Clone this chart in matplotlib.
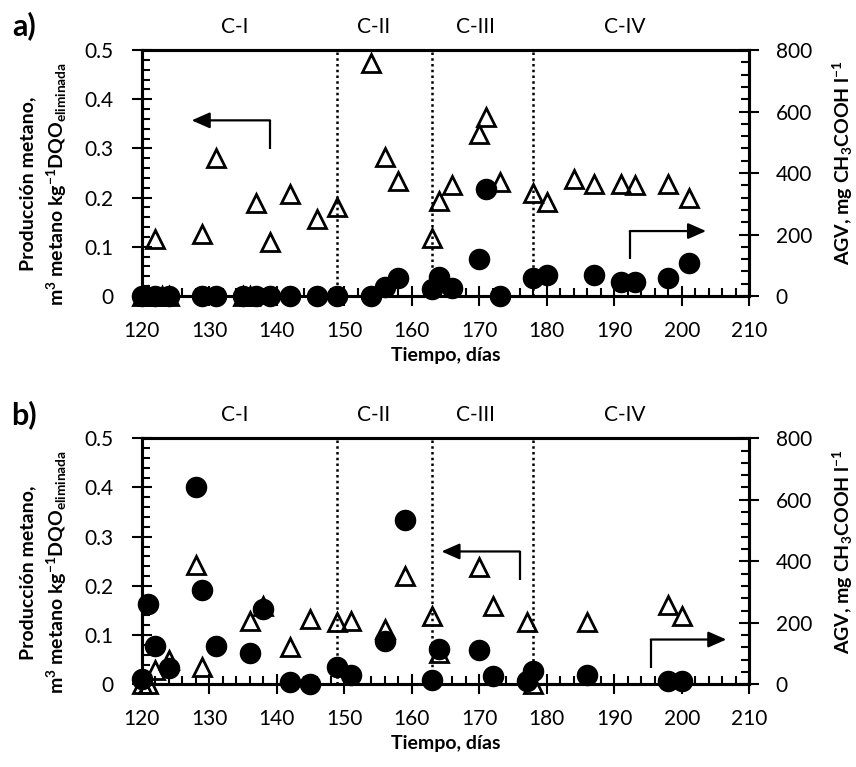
import matplotlib
matplotlib.use("Agg")
import matplotlib.pyplot as plt
from matplotlib.ticker import MultipleLocator, FuncFormatter

plt.rcParams['font.family'] = ['Lato', 'DejaVu Sans']
plt.rcParams['mathtext.fontset'] = 'custom'
plt.rcParams['mathtext.rm'] = 'Lato:bold'
plt.rcParams['mathtext.bf'] = 'Lato:bold'
plt.rcParams['mathtext.it'] = 'Lato:bold:italic'
plt.rcParams['mathtext.default'] = 'rm'

# ================ DATA ================
# a) methane production (left axis, triangles) and AGV (right axis, circles)
tri_a_days = [120, 121, 122, 123, 124, 129, 131, 135, 136, 137, 139, 142, 146, 149,
              154, 156, 158, 163, 164, 166, 170, 171, 173, 178, 180, 184, 187, 191,
              193, 198, 201]
tri_a_vals = [0, 0, 0.115, 0, 0, 0.127, 0.28, 0, 0, 0.19, 0.109, 0.208, 0.156, 0.18,
              0.473, 0.283, 0.233, 0.117, 0.193, 0.225, 0.329, 0.364, 0.232, 0.209,
              0.191, 0.237, 0.228, 0.228, 0.225, 0.228, 0.199]
circ_a_days = [120, 122, 124, 129, 131, 135, 137, 139, 142, 146, 149, 154, 156, 158,
               163, 164, 166, 170, 171, 173, 178, 180, 187, 191, 193, 198, 201]
circ_a_vals = [0, 0, 0, 0, 0, 0, 0, 0, 0, 0, 0, 0, 30, 60,
               22, 63, 25, 119, 347, 0, 60, 68, 68, 44, 44, 60, 106]

# b)
tri_b_days = [120, 121, 122, 124, 128, 129, 136, 138, 142, 145, 149, 151, 156, 159,
              163, 164, 170, 172, 177, 178, 186, 198, 200]
tri_b_vals = [0, 0, 0.029, 0.049, 0.243, 0.035, 0.129, 0.16, 0.076, 0.132, 0.127,
              0.129, 0.112, 0.221, 0.138, 0.063, 0.239, 0.16, 0.126, 0, 0.127, 0.161,
              0.139]
circ_b_days = [120, 121, 122, 124, 128, 129, 131, 136, 138, 142, 145, 149, 151, 156,
               159, 163, 164, 170, 172, 177, 178, 186, 198, 200]
circ_b_vals = [16, 261, 125, 52, 640, 307, 125, 103, 244, 9, 0, 57, 30, 142,
               534, 14, 114, 112, 28, 11, 44, 30, 11, 11]

phase_bounds = [149, 163, 178]
phase_names = ['C-I', 'C-II', 'C-III', 'C-IV']
phase_label_x = [133.8, 154.3, 169.5, 191.6]

# ================ DRAW ================
W, H = 856, 767
fig = plt.figure(figsize=(W / 100, H / 100), dpi=100)

TICK_FS = 15
LABEL_FS = 14


def panel(rect, tri_days, tri_vals, circ_days, circ_vals, left_arrow, right_arrow,
          letter, dy):
    ax = fig.add_axes(rect)
    ax2 = ax.twinx()

    ax.set_xlim(120, 210)
    ax.set_ylim(0, 0.5)
    ax2.set_ylim(0, 800)

    for x in phase_bounds:
        ax.axvline(x, color='k', ls=(0, (1, 1.3)), lw=1.8)

    ax.plot(tri_days, tri_vals, ls='none', marker='^', ms=13, mfc='none',
            mec='k', mew=2, clip_on=False)
    ax2.plot(circ_days, circ_vals, ls='none', marker='o', ms=14.5, color='k',
             clip_on=False)

    # arrows pointing to the matching axis
    for pts in (left_arrow, right_arrow):
        (x0, y0), (x1, y1), (x2, y2) = pts
        ax.plot([x0, x1], [y0, y1], color='k', lw=1.6, solid_capstyle='butt')
        ax.annotate('', xy=(x2, y2), xytext=(x1, y1),
                    arrowprops=dict(arrowstyle='-|>,head_length=0.5,head_width=0.22',
                                    color='k', lw=1.6, mutation_scale=22,
                                    shrinkA=0, shrinkB=0))

    ax.xaxis.set_major_locator(MultipleLocator(10))
    ax.xaxis.set_minor_locator(MultipleLocator(2))
    ax.yaxis.set_major_locator(MultipleLocator(0.1))
    ax.yaxis.set_minor_locator(MultipleLocator(0.02))
    ax2.yaxis.set_major_locator(MultipleLocator(200))
    ax2.yaxis.set_minor_locator(MultipleLocator(40))
    ax.yaxis.set_major_formatter(FuncFormatter(lambda v, p: '0' if abs(v) < 1e-9 else f'{v:.1f}'))

    ax.tick_params(axis='x', which='major', direction='inout', length=14, width=1.5,
                   labelsize=TICK_FS, pad=11)
    ax.tick_params(axis='x', which='minor', direction='in', length=6, width=1.5)
    ax.tick_params(axis='y', which='major', direction='inout', length=14, width=1.5,
                   labelsize=TICK_FS, pad=13)
    ax.tick_params(axis='y', which='minor', direction='in', length=6, width=1.5)
    ax2.tick_params(axis='y', which='major', direction='inout', length=14, width=1.5,
                    labelsize=TICK_FS, pad=12)
    ax2.tick_params(axis='y', which='minor', direction='in', length=6, width=1.5)

    for a in (ax, ax2):
        for s in a.spines.values():
            s.set_linewidth(2.2)

    ax.set_xlabel('Tiempo, días', fontsize=LABEL_FS, fontweight='bold', labelpad=4)

    tr = ax.get_xaxis_transform()
    for name, x in zip(phase_names, phase_label_x):
        ax.text(x, 1.093, name, transform=tr, ha='center', va='center', fontsize=TICK_FS)

    # axis titles
    fig.text(28 / W, 1 - (184 + dy) / H, 'Producción metano,', rotation=90,
             ha='center', va='center', fontsize=LABEL_FS, fontweight='bold')
    fig.text(57 / W, 1 - (184 + dy) / H,
             'm$^{3}$ metano kg$^{-1}$DQO$_{eliminada}$', rotation=90,
             ha='center', va='center', fontsize=LABEL_FS, fontweight='bold')
    fig.text(843 / W, 1 - (163 + dy) / H, 'AGV, mg CH$_{3}$COOH l$^{-1}$', rotation=90,
             ha='center', va='center', fontsize=LABEL_FS, fontweight='bold')
    fig.text(24 / W, 1 - (26 + dy) / H, letter, ha='center', va='center',
             fontsize=22, fontweight='bold')
    return ax, ax2


panel([141.7 / W, 1 - 296 / H, 607.6 / W, 246 / H],
      tri_a_days, tri_a_vals, circ_a_days, circ_a_vals,
      [(139, 0.298), (139, 0.357), (127.4, 0.357)],
      [(192.3, 0.0744), (192.3, 0.132), (203.6, 0.132)], 'a)', 0)
panel([141.7 / W, 1 - 684.3 / H, 607.6 / W, 246 / H],
      tri_b_days, tri_b_vals, circ_b_days, circ_b_vals,
      [(176, 0.212), (176, 0.27), (164.4, 0.27)],
      [(195.4, 0.0325), (195.4, 0.091), (206.6, 0.091)], 'b)', 388.3)

fig.savefig('out.png', dpi=100)
